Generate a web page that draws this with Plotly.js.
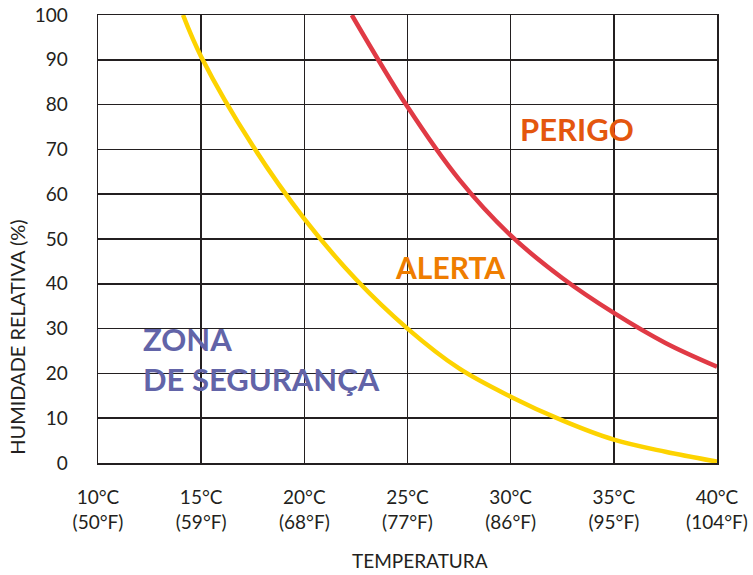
<!DOCTYPE html>
<html>
<head>
<meta charset="utf-8">
<script src="https://cdn.plot.ly/plotly-3.0.1.min.js"></script>
<style>body{margin:0;background:#fff;}#chart{width:753px;height:575px;}</style>
</head>
<body>
<div id="chart"></div>
<script>
// Safety (yellow) boundary curve
const yellowT = [14.12, 15.0, 17.5, 20.0, 22.5, 25.0, 27.5, 30.0, 32.5, 35.0, 37.5, 40.0];
const yellowRH = [100, 90.7, 70.8, 54.5, 41.0, 30.0, 21.1, 14.8, 9.5, 5.2, 2.5, 0.3];
// Danger (red) boundary curve
const redT = [22.3, 25.0, 27.5, 30.0, 32.5, 35.0, 37.5, 40.0];
const redRH = [100, 79.5, 63.3, 50.8, 41.3, 33.5, 26.8, 21.5];
// Axis ticks
const xTickVals = [10, 15, 20, 25, 30, 35, 40];
const xTickText = ["10°C<br>(50°F)", "15°C<br>(59°F)", "20°C<br>(68°F)", "25°C<br>(77°F)", "30°C<br>(86°F)", "35°C<br>(95°F)", "40°C<br>(104°F)"];
const yTickVals = [0, 10, 20, 30, 40, 50, 60, 70, 80, 90, 100];

const ink = '#231F20';
const traces = [
  {x: yellowT, y: yellowRH, mode: 'lines', line: {color: '#FDD300', width: 4.5, shape: 'spline', smoothing: 1}, hoverinfo: 'skip'},
  {x: redT, y: redRH, mode: 'lines', line: {color: '#E03A45', width: 4.5, shape: 'spline', smoothing: 1}, hoverinfo: 'skip'}
];

const layout = {
  width: 753, height: 575,
  margin: {l: 98, r: 36, t: 15, b: 112},
  paper_bgcolor: '#fff', plot_bgcolor: '#fff',
  showlegend: false,
  font: {family: 'Lato, sans-serif', color: ink},
  xaxis: {
    range: [10, 40], tickvals: xTickVals, ticktext: xTickText,
    showgrid: true, gridcolor: ink, gridwidth: 1.5,
    showline: true, linecolor: ink, linewidth: 1.5, mirror: true,
    zeroline: false, ticks: '', ticklabelstandoff: 17,
    tickfont: {size: 19, color: ink, family: 'Lato, sans-serif'}
  },
  yaxis: {
    range: [0, 100], tickvals: yTickVals,
    showgrid: true, gridcolor: ink, gridwidth: 1.5,
    showline: true, linecolor: ink, linewidth: 1.5, mirror: true,
    zeroline: false, ticks: '', ticklabelstandoff: 25,
    tickfont: {size: 19, color: ink, family: 'Lato, sans-serif'}
  },
  annotations: [
    {xref: 'paper', yref: 'paper', x: 0.52, y: -0.217, xanchor: 'center', yanchor: 'middle', showarrow: false,
     borderpad: 0, text: 'TEMPERATURA', font: {size: 19, color: ink, family: 'Lato, sans-serif'}},
    {xref: 'paper', yref: 'paper', x: -0.132, y: 0.28, xanchor: 'center', yanchor: 'middle', showarrow: false,
     textangle: -90, text: 'HUMIDADE RELATIVA (%)', font: {size: 20, color: ink, family: 'Lato, sans-serif'}},
    {x: 30.35, y: 74.5, xanchor: 'left', yanchor: 'middle', showarrow: false,
     text: '<b>PERIGO</b>', font: {size: 31, color: '#E4560E', family: 'Lato, sans-serif'}},
    {x: 24.3, y: 43.7, xanchor: 'left', yanchor: 'middle', showarrow: false,
     text: '<b>ALERTA</b>', font: {size: 30, color: '#EF7D00', family: 'Lato, sans-serif'}},
    {x: 12.1, y: 23.2, xanchor: 'left', yanchor: 'middle', showarrow: false, align: 'left',
     text: '<b>ZONA<br>DE SEGURANÇA</b>', font: {size: 31, color: '#6264A8', family: 'Lato, sans-serif'}}
  ]
};

Plotly.newPlot('chart', traces, layout, {displayModeBar: false, staticPlot: true});
</script>
</body>
</html>
